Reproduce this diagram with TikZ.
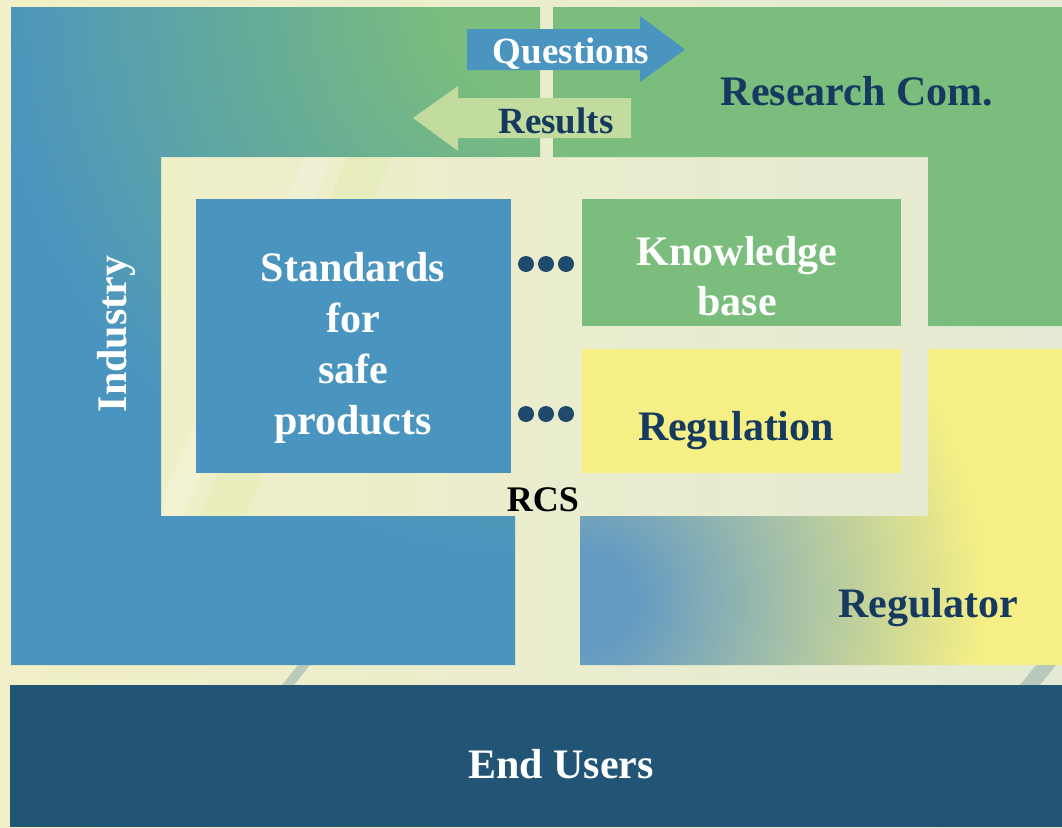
\documentclass[tikz,border=0pt]{standalone}
\usepackage{fontspec}
\setmainfont{Liberation Serif}
\definecolor{iblue}{RGB}{74,148,192}
\definecolor{igreen}{RGB}{122,189,124}
\definecolor{iyellow}{RGB}{245,239,133}
\definecolor{navy}{RGB}{22,57,95}
\definecolor{endblue}{RGB}{33,84,117}
\definecolor{resgreen}{RGB}{193,220,158}
\definecolor{bgl}{RGB}{241,240,198}
\definecolor{bgr}{RGB}{228,234,212}
\definecolor{dotcol}{RGB}{31,74,110}
\definecolor{regblue}{RGB}{100,155,195}
\definecolor{stripe}{RGB}{140,170,165}
\pgfdeclareradialshading{indshade}{\pgfpointorigin}{color(0bp)=(igreen); color(2.5bp)=(igreen); color(14bp)=(iblue); color(50bp)=(iblue)}
\pgfdeclareradialshading{regshade}{\pgfpointorigin}{color(0bp)=(regblue); color(1.2bp)=(regblue); color(10bp)=(iyellow); color(50bp)=(iyellow)}
\begin{document}
\begin{tikzpicture}[x=1pt,y=-1pt,
  txt/.style={font=\bfseries\fontsize{42}{51}\selectfont, inner sep=0pt, anchor=base},
  smalltxt/.style={font=\bfseries\fontsize{37}{44}\selectfont, inner sep=0pt, anchor=base},
  box/.style={draw=none, inner sep=0pt, outer sep=0pt},
  dotstyle/.style={fill=dotcol}]
\useasboundingbox (0,0) rectangle (1062,827);
% background
\shade[left color=bgl, right color=bgr] (0,0) rectangle (1062,827);
\fill[white, opacity=0.2] (150,530) -- (178,530) -- (335,150) -- (307,150) -- cycle;
\fill[yellow!70!green, opacity=0.08] (195,530) -- (240,530) -- (395,150) -- (350,150) -- cycle;
\fill[stripe, opacity=0.5] (282,685) -- (294,685) -- (310,665) -- (298,665) -- cycle;
\fill[stripe, opacity=0.5] (1020,685) -- (1040,685) -- (1056,665) -- (1036,665) -- cycle;
% Industry
\begin{scope}
  \clip (11,7) -- (540,7) -- (540,157) -- (161,157) -- (161,516) -- (515,516) -- (515,665) -- (11,665) -- cycle;
  \shade[shading=indshade] (548,0) circle[radius=1000pt];
\end{scope}
% Research community
\fill[igreen] (553,7) -- (1062,7) -- (1062,326) -- (928,326) -- (928,157) -- (553,157) -- cycle;
% Regulator
\begin{scope}
  \clip (928,349) -- (1062,349) -- (1062,665) -- (580,665) -- (580,516) -- (928,516) -- cycle;
  \shade[shading=regshade] (585,600) circle[radius=1000pt];
\end{scope}
% End users
\node[box, fill=endblue, minimum width=1052pt, minimum height=142pt, anchor=north west] (endusers) at (10,685) {};
% inner boxes
\node[box, fill=iblue, minimum width=315pt, minimum height=274pt] (standards) at (353.5,336) {};
\node[box, fill=igreen, minimum width=319pt, minimum height=127pt] (knowledge) at (741.5,262.5) {};
\node[box, fill=iyellow, minimum width=319pt, minimum height=124pt] (regulation) at (741.5,411) {};
% arrows
\fill[iblue] (467,29) -- (640,29) -- (640,16) -- (685,49.5) -- (640,82) -- (640,70) -- (467,70) -- cycle;
\fill[resgreen] (631,98) -- (458,98) -- (458,86) -- (413,118) -- (458,151) -- (458,138) -- (631,138) -- cycle;
\node[smalltxt, white] (questions) at (571,63) {Questions};
\node[smalltxt, navy] (results) at (556,133) {Results};
% dots
\foreach \i/\x in {1/526,2/546,3/566} {
  \fill[dotstyle] (\x,264) circle[radius=8pt];
  \fill[dotstyle] (\x,414) circle[radius=8pt];
}
% labels
\node[txt, navy] (research) at (857,105) {Research Com.};
\node[txt, white] (s1) at (353,281) {Standards};
\node[txt, white] (s2) at (353,332) {for};
\node[txt, white] (s3) at (353,383) {safe};
\node[txt, white] (s4) at (353,434) {products};
\node[txt, white] (k1) at (737,265) {Knowledge};
\node[txt, white] (k2) at (737,315) {base};
\node[txt, navy] (reglab) at (736,440) {Regulation};
\node[txt, navy] (regulator) at (928,617) {Regulator};
\node[txt, white] (enduserslab) at (561,778) {End Users};
\node[txt, white, rotate=90] (industry) at (126,334) {Industry};
\node[font=\bfseries\fontsize{36}{43}\selectfont, inner sep=0pt, anchor=base, black] (rcs) at (543,511) {RCS};
\end{tikzpicture}
\end{document}
